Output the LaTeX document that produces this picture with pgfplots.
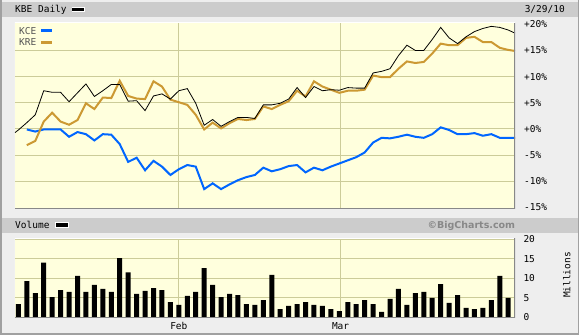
\documentclass[border=0pt]{standalone}
\usepackage{fontspec}
\setmainfont{DejaVu Sans Mono}
\newfontfamily\bcfont{DejaVu Sans}
\usepackage{pgfplots}
\pgfplotsset{compat=1.18}
\usepackage{pgfplotstable}
\definecolor{bgout}{HTML}{EEEEEE}
\definecolor{hdrbar}{HTML}{CCCCCC}
\definecolor{plotbg}{HTML}{FFFFDD}
\definecolor{gridc}{HTML}{CCCC99}
\definecolor{kce}{HTML}{0066FF}
\definecolor{kre}{HTML}{CC9933}
\definecolor{framec}{HTML}{888888}
\definecolor{legtext}{HTML}{555555}

\pgfplotstableread{
x y
-0.4 -0.7
0 -0.2
1 1.2
2 2.7
3 7.3
4 7.0
5 7.0
6 5.2
7 6.9
8 8.6
9 6.2
10 7.3
11 8.5
12 8.5
13 5.3
14 5.4
15 3.5
16 6.3
17 6.7
18 5.7
19 7.3
20 7.7
21 4.9
22 0.7
23 1.8
24 0.5
25 1.4
26 2.2
27 2.2
28 2.0
29 4.6
30 4.6
31 4.9
32 5.7
33 7.9
34 6.0
35 8.1
36 7.3
37 7.5
38 7.4
39 7.9
40 7.8
41 7.8
42 10.7
43 11.0
44 11.5
45 14.0
46 16.0
47 15.0
48 15.0
49 17.1
50 19.4
51 17.4
52 16.3
53 17.6
54 18.6
55 19.2
56 19.6
57 19.4
58 18.9
58.8 18.3
}\kbe

\pgfplotstableread{
x y
1 -3.1
2 -2.3
3 1.4
4 3.1
5 1.4
6 0.8
7 1.7
8 4.9
9 3.8
10 6.0
11 5.9
12 9.2
13 6.3
14 5.8
15 5.7
16 9.1
17 8.1
18 5.6
19 5.1
20 4.6
21 2.7
22 -0.1
23 1.2
24 0.1
25 1.1
26 1.9
27 1.7
28 1.9
29 4.3
30 3.8
31 4.6
32 5.3
33 7.3
34 6.2
35 9.1
36 8.1
37 7.5
38 6.9
39 7.3
40 7.3
41 7.5
42 10.2
43 9.9
44 9.9
45 11.5
46 12.9
47 12.6
48 12.8
49 14.4
50 16.3
51 16.0
52 16.0
53 17.4
54 17.6
55 16.6
56 16.6
57 15.5
58 15.1
58.8 14.9
}\kre

\pgfplotstableread{
x y
1 -0.1
2 -0.5
3 -0.1
4 -0.1
5 -0.1
6 -1.5
7 -0.6
8 -1.0
9 -2.2
10 -1.0
11 -1.1
12 -2.9
13 -6.3
14 -5.5
15 -7.9
16 -6.1
17 -7.2
18 -8.8
19 -7.7
20 -6.9
21 -7.2
22 -11.5
23 -10.4
24 -11.5
25 -10.6
26 -9.8
27 -9.2
28 -8.8
29 -7.4
30 -8.1
31 -7.7
32 -7.1
33 -6.9
34 -8.3
35 -7.4
36 -7.9
37 -7.2
38 -6.6
39 -6.0
40 -5.4
41 -4.5
42 -2.6
43 -1.7
44 -1.8
45 -1.5
46 -1.1
47 -1.5
48 -1.7
49 -1.0
50 0.3
51 -0.2
52 -1.0
53 -1.0
54 -0.8
55 -1.3
56 -1.0
57 -1.7
58 -1.7
58.8 -1.7
}\kce

\pgfplotstableread{
x v
0 3.4
1 9.3
2 6.2
3 14.0
4 5.2
5 7.0
6 6.5
7 10.6
8 6.5
9 8.3
10 7.3
11 6.5
12 15.2
13 11.5
14 6.0
15 6.8
16 7.5
17 7.0
18 3.9
19 3.2
20 5.5
21 6.5
22 12.6
23 8.3
24 5.2
25 6.0
26 5.7
27 3.4
28 3.2
29 4.4
30 10.9
31 2.1
32 2.9
33 3.4
34 3.9
35 3.2
36 2.9
37 2.1
38 1.6
39 3.9
40 3.4
41 4.4
42 3.4
43 1.4
44 4.7
45 7.3
46 3.2
47 6.2
48 6.5
49 5.0
50 8.5
51 3.7
52 5.7
53 2.4
54 2.1
55 2.4
56 4.4
57 10.6
58 5.0
}\vol

\begin{document}
\begin{tikzpicture}[font=\fontsize{9.5}{11}\selectfont]
% panel background and bars
\fill[bgout] (0pt,0pt) rectangle (579pt,335pt);
\fill[hdrbar] (1.5pt,318.3pt) rectangle (579pt,332.5pt);
\fill[hdrbar] (1.5pt,102.3pt) rectangle (579pt,116.7pt);
\draw[framec!80, line width=1.5pt] (0.75pt,335pt) -- (0.75pt,0.75pt) -- (578.25pt,0.75pt) -- (578.25pt,335pt);

% header texts
\node[anchor=base west, inner sep=0pt] at (15pt,322.7pt) {KBE Daily};
\fill[white] (71.5pt,322.7pt) rectangle (85.2pt,328pt);
\fill[black] (72.4pt,323.7pt) rectangle (84.3pt,327.2pt);
\node[anchor=base east, inner sep=0pt] at (565pt,322.5pt) {3/29/10};

\node[anchor=base west, inner sep=0pt] at (15pt,106pt) {Volume};
\fill[white] (55pt,106.9pt) rectangle (68.5pt,112.5pt);
\fill[black] (55.8pt,107.7pt) rectangle (67.7pt,111.7pt);
\node[anchor=base east, inner sep=0pt, text=framec, font=\bcfont\bfseries\fontsize{9.5}{11}\selectfont] at (515.3pt,106.3pt) {©BigCharts.com};

% price axis
\begin{axis}[
  at={(15pt,126pt)}, anchor=south west,
  scale only axis, width=500pt, height=186.3pt,
  xmin=-0.4, xmax=58.8, ymin=-15.3, ymax=20.3,
  axis line style={draw=none},
  axis background/.style={fill=plotbg},
  xtick={19,38.15}, xticklabels={}, xmajorgrids,
  ytick={-15,-10,...,20},
  yticklabels={-15\%,-10\%,-5\%,+0\%,+5\%,+10\%,+15\%,+20\%},
  extra y ticks={-10,-5,0,5,10,15}, extra y tick labels={},
  extra y tick style={grid=major},
  grid style={gridc, line width=0.9pt},
  major tick length=0pt,
  yticklabel pos=right,
  yticklabel style={anchor=west, inner sep=0pt, xshift=9pt},
  tick label style={font=\fontsize{9.5}{11}\selectfont},
  clip=true,
]
\addplot[kce, line width=2pt] table[x=x,y=y] {\kce};
\addplot[kre, line width=2pt] table[x=x,y=y] {\kre};
\addplot[black, line width=0.8pt] table[x=x,y=y] {\kbe};
\draw[white, line width=1pt] (rel axis cs:0,0) -- (rel axis cs:0,1) -- (rel axis cs:1,1);
\draw[framec, line width=1.2pt] (rel axis cs:0,0) -- (rel axis cs:1,0) -- (rel axis cs:1,1);
\end{axis}

% legend inside price panel
\node[anchor=base west, inner sep=0pt, text=legtext] at (19pt,300.7pt) {KCE};
\fill[kce] (40.7pt,302.7pt) rectangle (52.3pt,305.7pt);
\node[anchor=base west, inner sep=0pt, text=legtext] at (19pt,289pt) {KRE};
\fill[kre] (40.7pt,291pt) rectangle (52.3pt,294.3pt);

% volume axis
\begin{axis}[
  at={(15pt,17.7pt)}, anchor=south west,
  scale only axis, width=500pt, height=79pt,
  xmin=-0.4, xmax=58.8, ymin=0, ymax=20.26,
  axis line style={draw=none},
  axis background/.style={fill=plotbg},
  xtick={19,38.15}, xticklabels={Feb,Mar}, xmajorgrids,
  xticklabel style={anchor=base, inner sep=0pt, yshift=-12pt},
  ytick={0,5,10,15,20}, yticklabels={0,5,10,15,20},
  ymajorgrids,
  grid style={gridc, line width=0.9pt},
  major tick length=0pt,
  yticklabel pos=right,
  yticklabel style={anchor=west, inner sep=0pt, xshift=8.3pt},
  tick label style={font=\fontsize{9.5}{11}\selectfont},
]
\addplot[ybar, bar width=5pt, fill=black, draw=none] table[x=x,y=v] {\vol};
\draw[white, line width=1pt] (rel axis cs:0,0) -- (rel axis cs:0,1) -- (rel axis cs:1,1);
\draw[framec, line width=1.2pt] (rel axis cs:0,0) -- (rel axis cs:1,0) -- (rel axis cs:1,1);
\end{axis}

\node[rotate=90, inner sep=0pt] at (566.7pt,60pt) {Millions};

\pgfresetboundingbox
\path (0pt,0pt) rectangle (579pt,335pt);
\end{tikzpicture}
\end{document}
